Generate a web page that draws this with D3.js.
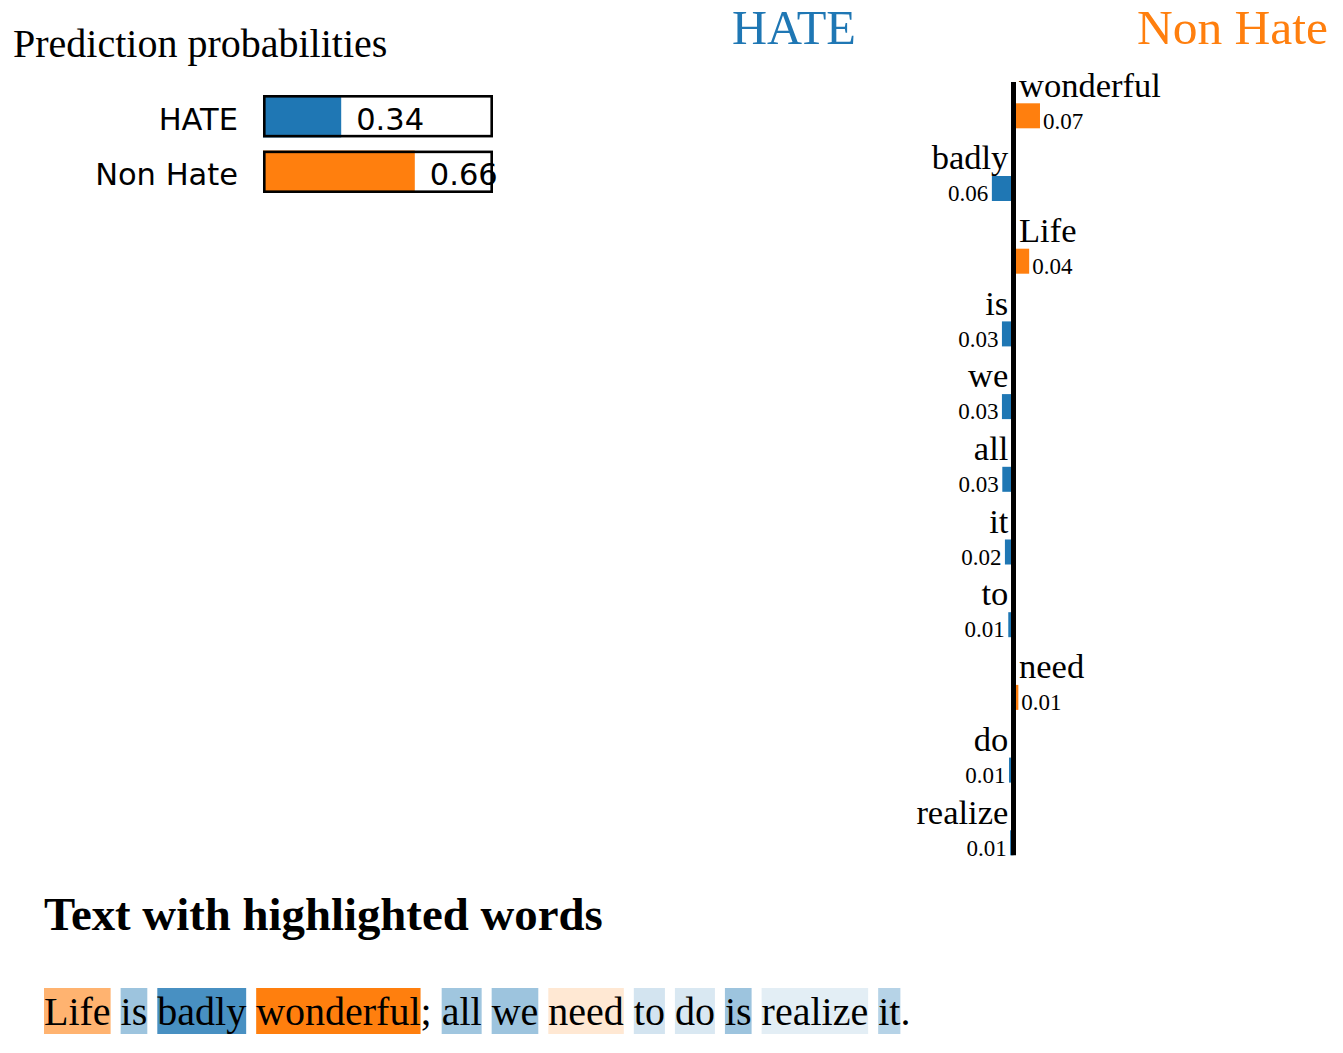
<!DOCTYPE html>
<html>
<head>
<meta charset="utf-8">
<script src="https://cdn.jsdelivr.net/npm/d3@7"></script>
<style>
  html, body { margin: 0; padding: 0; background: #fff; }
  svg { display: block; }
</style>
</head>
<body>
<script>
// ---------------- DATA ----------------
const classNames = ["HATE", "Non Hate"];
const classProbs = [0.34, 0.66];
const classColors = ["#1f77b4", "#ff7f0e"];

const features = ["wonderful", "badly", "Life", "is", "we", "all", "it", "to", "need", "do", "realize"];
// negative -> HATE, positive -> Non Hate
const weights = [0.071, -0.058, 0.042, -0.031, -0.031, -0.030, -0.023, -0.014, 0.013, -0.012, -0.009];

const rawText = "Life is badly wonderful; all we need to do is realize it.";

// ---------------- SETUP ----------------
const W = 1343, H = 1053;
const serif = "'Liberation Serif', 'Times New Roman', serif";
const sans = "'DejaVu Sans', Verdana, sans-serif";

const svg = d3.select("body").append("svg").attr("width", W).attr("height", H);

// ---------------- PREDICTION PROBABILITIES ----------------
svg.append("text")
  .attr("x", 13).attr("y", 57)
  .attr("font-family", serif).attr("font-size", 40)
  .attr("fill", "#000")
  .text("Prediction probabilities");

const px = d3.scaleLinear().domain([0, 1]).range([263, 493]);
const py = d3.scaleBand().domain(classNames).range([95, 193]).paddingInner(13 / 55).paddingOuter(0);

const pg = svg.append("g");
classNames.forEach((c, i) => {
  const y0 = py(c), bh = py.bandwidth();
  pg.append("rect")
    .attr("x", px(0)).attr("y", y0)
    .attr("width", px(classProbs[i]) - px(0)).attr("height", bh)
    .attr("fill", classColors[i]);
  pg.append("rect")
    .attr("x", px(0) + 1.3).attr("y", y0 + 1.3)
    .attr("width", px(1) - px(0) - 2.6).attr("height", bh - 2.6)
    .attr("fill", "none").attr("stroke", "#000").attr("stroke-width", 2.6);
  pg.append("text")
    .attr("x", 238).attr("y", y0 + bh / 2 + 13.5)
    .attr("text-anchor", "end")
    .attr("font-family", sans).attr("font-size", 30.5)
    .attr("fill", "#000")
    .text(c);
  pg.append("text")
    .attr("x", px(classProbs[i]) + 15).attr("y", y0 + bh / 2 + 13.5)
    .attr("font-family", sans).attr("font-size", 30.5)
    .attr("fill", "#000")
    .text(classProbs[i].toFixed(2));
});

// ---------------- EXPLANATION BARS ----------------
const cx = 1013.5;
const ex = d3.scaleLinear().domain([-0.1, 0.1]).range([cx - 37.3, cx + 37.3]);
const step = 72.7;
const ey = d3.scaleBand().domain(features).range([82, 82 + step * features.length]).padding(0);

svg.append("text")
  .attr("x", 794).attr("y", 44).attr("text-anchor", "middle")
  .attr("font-family", serif).attr("font-size", 48.5)
  .attr("fill", classColors[0]).text(classNames[0]);
svg.append("text")
  .attr("x", 1328).attr("y", 44).attr("text-anchor", "end")
  .attr("font-family", serif).attr("font-size", 49.5)
  .attr("fill", classColors[1]).text(classNames[1]);

const eg = svg.append("g");
features.forEach((f, i) => {
  const w = weights[i];
  const y0 = ey(f);
  const pos = w > 0;
  eg.append("rect")
    .attr("x", Math.min(ex(0), ex(w))).attr("y", y0 + 21.3)
    .attr("width", Math.abs(ex(w) - ex(0))).attr("height", 25)
    .attr("fill", pos ? classColors[1] : classColors[0]);
  eg.append("text")
    .attr("x", pos ? cx + 5.5 : cx - 5.2).attr("y", y0 + 14.5)
    .attr("text-anchor", pos ? "start" : "end")
    .attr("font-family", serif).attr("font-size", 34.5)
    .attr("fill", "#000").text(f);
  eg.append("text")
    .attr("x", pos ? ex(w) + 3 : ex(w) - 3.5).attr("y", y0 + 46.5)
    .attr("text-anchor", pos ? "start" : "end")
    .attr("font-family", serif).attr("font-size", 23)
    .attr("fill", "#000").text(Math.abs(w).toFixed(2));
});

const lastY = ey(features[features.length - 1]) + 21.3 + 25;
svg.append("line")
  .attr("x1", cx).attr("x2", cx)
  .attr("y1", 82).attr("y2", lastY)
  .attr("stroke", "#000").attr("stroke-width", 5);

// ---------------- TEXT WITH HIGHLIGHTED WORDS ----------------
svg.append("text")
  .attr("x", 44).attr("y", 930)
  .attr("font-family", serif).attr("font-size", 46.8).attr("font-weight", "bold")
  .attr("fill", "#000").text("Text with highlighted words");

const maxAbs = d3.max(weights, d => Math.abs(d));
const weightOf = new Map(features.map((f, i) => [f, weights[i]]));
const tokens = rawText.split(/(\w+)/).filter(t => t.length > 0);

const canvas = document.createElement("canvas");
const ctx = canvas.getContext("2d");
const fontSize = 40;
ctx.font = fontSize + "px 'Liberation Serif'";

const tg = svg.append("g");
let xCur = 44;
const baseY = 1025;
tokens.forEach(t => {
  const tw = ctx.measureText(t).width;
  if (weightOf.has(t)) {
    const w = weightOf.get(t);
    const col = w > 0 ? classColors[1] : classColors[0];
    const bg = d3.interpolateRgb("#ffffff", col)(Math.abs(w) / maxAbs);
    tg.append("rect")
      .attr("x", xCur).attr("y", 988)
      .attr("width", tw).attr("height", 46)
      .attr("fill", bg);
  }
  if (t.trim().length > 0) {
    tg.append("text")
      .attr("x", xCur).attr("y", baseY)
      .attr("font-family", serif).attr("font-size", fontSize)
      .attr("fill", "#000")
      .text(t);
  }
  xCur += tw;
});
</script>
</body>
</html>
